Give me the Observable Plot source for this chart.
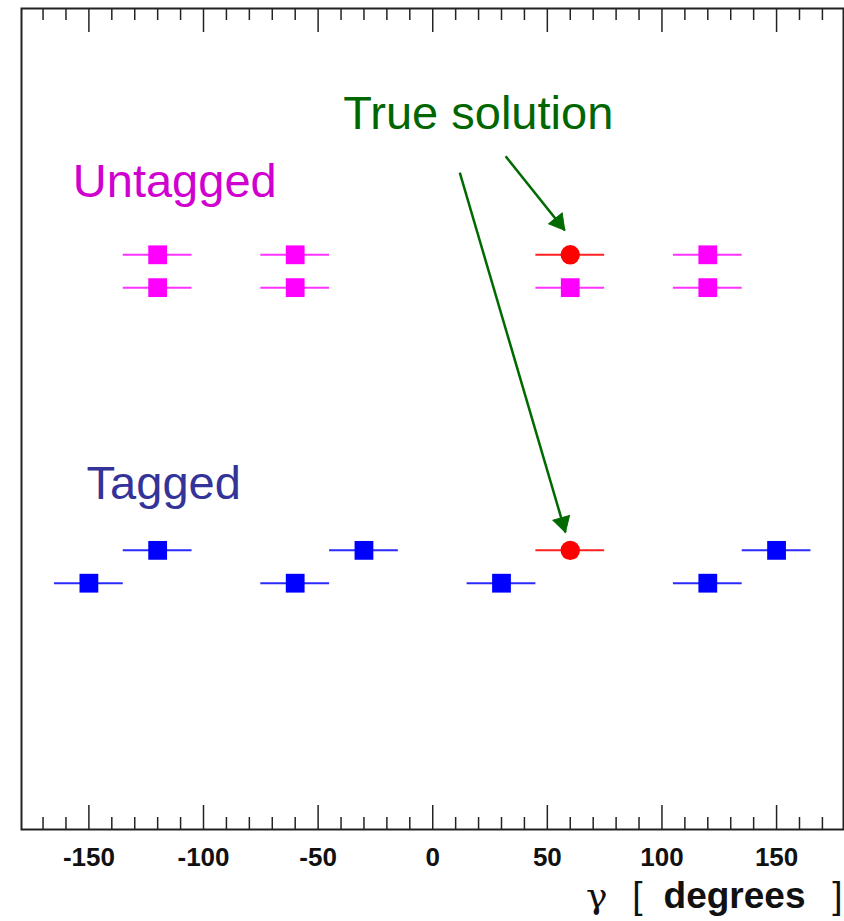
<!DOCTYPE html>
<html>
<head>
<meta charset="utf-8">
<script src="https://cdn.jsdelivr.net/npm/d3@7"></script>
<script src="https://cdn.jsdelivr.net/npm/@observablehq/plot@0.6"></script>
<style>
  html, body { margin: 0; padding: 0; background: #ffffff; }
  svg { display: block; }
</style>
</head>
<body>
<div id="chart"></div>
<script>
// ---- data ----
const untaggedX = [-120, -60, 120, -120, -60, 60, 120];
const untaggedY = [0.70, 0.70, 0.70, 0.66, 0.66, 0.66, 0.66];
const taggedX = [-120, -30, 150, -150, -60, 30, 120];
const taggedY = [0.34, 0.34, 0.34, 0.30, 0.30, 0.30, 0.30];
const trueX = [60, 60];
const trueY = [0.70, 0.34];
const errHalfWidth = 15;
const majorTicks = [-150, -100, -50, 0, 50, 100, 150];
const minorTicks = [-170, -160, -140, -130, -120, -110, -90, -80, -70, -60, -40, -30, -20, -10,
                    10, 20, 30, 40, 60, 70, 80, 90, 110, 120, 130, 140, 160, 170];
const labelTexts = ["True solution", "Untagged", "Tagged"];
const labelX = [-39, -157, -151];
const labelY = [0.872, 0.789, 0.421];
const arrowX1 = [31.8, 11.8];
const arrowY1 = [0.820, 0.800];
const arrowX2 = [57.6, 57.9];
const arrowY2 = [0.730, 0.362];
const axisLabelParts = ["γ", "[", "degrees", "]"];

// ---- build ----
const W = 844, H = 921, mL = 21, mR = 1, mT = 8, mB = 92;
const plotH = H - mT - mB;
const xDomain = [-179.4, 179.2], yDomain = [0, 1];
const sx = d3.scaleLinear(xDomain, [mL, W - mR]);
const sy = d3.scaleLinear(yDomain, [H - mB, mT]);

const pts = (xs, ys) => xs.map((x, i) => ({x, y: ys[i]}));
const untagged = pts(untaggedX, untaggedY);
const tagged = pts(taggedX, taggedY);
const truth = pts(trueX, trueY);
const labels = labelTexts.map((t, i) => ({t, x: labelX[i], y: labelY[i]}));
const arrows = arrowX1.map((x1, i) => ({x1, y1: arrowY1[i], x2: arrowX2[i], y2: arrowY2[i]}));

// filled arrowheads: triangle symbol centred behind the tip, rotated along the shaft
const headHalf = 5; // d3 triangle: tip at 2*headHalf from centre
const heads = arrows.map(a => {
  const px1 = sx(a.x1), py1 = sy(a.y1), px2 = sx(a.x2), py2 = sy(a.y2);
  const L = Math.hypot(px2 - px1, py2 - py1);
  const ux = (px2 - px1) / L, uy = (py2 - py1) / L;
  const cx = px2 - ux * 2 * headHalf, cy = py2 - uy * 2 * headHalf;
  return {x: sx.invert(cx), y: sy.invert(cy), angle: Math.atan2(ux, -uy) * 180 / Math.PI};
});
const headR = Math.sqrt(headHalf * headHalf * 3 * Math.sqrt(3) / Math.PI);

const errBars = (data, color) => Plot.ruleY(data, {
  y: "y", x1: d => d.x - errHalfWidth, x2: d => d.x + errHalfWidth,
  stroke: color, strokeWidth: 2
});

const axisPart = (i, dx, extra) => Plot.text([axisLabelParts[i]], {
  text: d => d, frameAnchor: "bottom-right", textAnchor: "end", lineAnchor: "middle",
  dx, dy: 67, fontSize: 37, fill: "#111", ...extra
});

const chart = Plot.plot({
  width: W, height: H,
  marginLeft: mL, marginRight: mR, marginTop: mT, marginBottom: mB,
  style: {background: "#ffffff", fontFamily: "'Liberation Sans', Arial, sans-serif"},
  x: {domain: xDomain},
  y: {domain: yDomain, axis: null},
  marks: [
    // inward ticks (top and bottom)
    Plot.tickX(minorTicks, {x: d => d, insetBottom: plotH - 12, stroke: "#222", strokeWidth: 1.5}),
    Plot.tickX(majorTicks, {x: d => d, insetBottom: plotH - 24, stroke: "#222", strokeWidth: 1.5}),
    Plot.tickX(minorTicks, {x: d => d, insetTop: plotH - 12, stroke: "#222", strokeWidth: 1.5}),
    Plot.tickX(majorTicks, {x: d => d, insetTop: plotH - 24, stroke: "#222", strokeWidth: 1.5}),
    Plot.axisX({ticks: majorTicks, tickSize: 0, tickPadding: 18, fontSize: 26, fontWeight: "bold",
                fill: "#111", label: null, tickFormat: d => String(d).replace("−", "-")}),
    // error bars
    errBars(untagged, "#ff33ff"),
    errBars(tagged, "#2a2aff"),
    errBars(truth, "#ff2020"),
    // markers
    Plot.dot(untagged, {x: "x", y: "y", symbol: "square", r: 10.6, fill: "#ff00ff"}),
    Plot.dot(tagged, {x: "x", y: "y", symbol: "square", r: 10.6, fill: "#0000ff"}),
    Plot.dot(truth, {x: "x", y: "y", r: 9.7, fill: "#ff0000"}),
    // annotations
    Plot.link(arrows, {x1: "x1", y1: "y1", x2: "x2", y2: "y2", stroke: "#006a00", strokeWidth: 2.5}),
    Plot.dot(heads, {x: "x", y: "y", symbol: "triangle", r: headR, rotate: "angle",
                     fill: "#006a00", stroke: "#006a00", strokeWidth: 1}),
    Plot.text(labels, {x: "x", y: "y", text: "t", textAnchor: "start", lineAnchor: "middle",
                       fontSize: 47,
                       fill: d => d.t === "True solution" ? "#006600" : d.t === "Untagged" ? "#d000d0" : "#333399"}),
    // axis title
    axisPart(0, -236, {fontFamily: "'DejaVu Serif', 'Liberation Serif', serif", fontSize: 36}),
    axisPart(1, -201, {}),
    axisPart(2, -38, {fontWeight: "bold"}),
    axisPart(3, -1, {}),
    Plot.frame({stroke: "#222", strokeWidth: 2})
  ]
});
document.getElementById("chart").appendChild(chart);
</script>
</body>
</html>
